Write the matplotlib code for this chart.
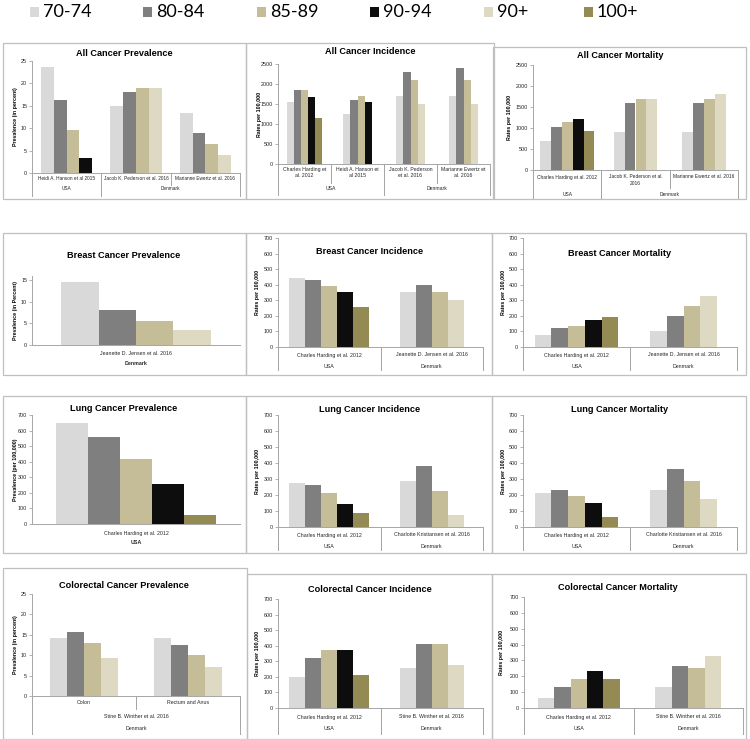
import matplotlib
matplotlib.use("Agg")
import matplotlib.pyplot as plt
from matplotlib.patches import Rectangle
from matplotlib.lines import Line2D
from matplotlib.transforms import blended_transform_factory

plt.rcParams["font.family"] = ["Liberation Sans", "DejaVu Sans"]

W, H = 750, 739

# age groups and their colours (legend order)
ages = ["70-74", "80-84", "85-89", "90-94", "90+", "100+"]
age_colors = ["#d9d9d9", "#7f7f7f", "#c4bd97", "#0d0d0d", "#ddd9c3", "#948a54"]

# --- All cancer ---
all_prev_studies = ["Heidi A. Hanson et al 2015", "Jacob K. Pederson et al. 2016",
                    "Marianne Ewertz et al. 2016"]
all_prev_values = [[23.7, 16.2, 9.7, 3.4, None, None],
                   [15.0, 18.1, 19.0, None, 19.0, None],
                   [13.3, 9.0, 6.5, None, 4.0, None]]

all_inc_studies = ["Charles Harding et\nal. 2012", "Heidi A. Hanson et\nal 2015",
                   "Jacob K. Pederson\net al. 2016", "Marianne Ewertz et\nal. 2016"]
all_inc_values = [[1550, 1850, 1850, 1680, None, 1150],
                  [1240, 1600, 1700, 1550, None, None],
                  [1700, 2300, 2100, None, 1500, None],
                  [1700, 2400, 2100, None, 1500, None]]

all_mort_studies = ["Charles Harding et al. 2012", "Jacob K. Pederson et al.\n2016",
                    "Marianne Ewertz et al. 2016"]
all_mort_values = [[690, 1020, 1140, 1220, None, 930],
                   [900, 1600, 1700, None, 1700, None],
                   [900, 1600, 1700, None, 1800, None]]

# --- Breast cancer ---
breast_prev_studies = ["Jeanette D. Jensen et al. 2016"]
breast_prev_values = [[14.5, 8.2, 5.6, None, 3.4, None]]

breast_studies = ["Charles Harding et al. 2012", "Jeanette D. Jensen et al. 2016"]
breast_inc_values = [[440, 430, 390, 350, None, 260],
                     [350, 400, 350, None, 300, None]]
breast_mort_values = [[80, 120, 135, 175, None, 190],
                      [100, 200, 265, None, 325, None]]

# --- Lung cancer ---
lung_prev_studies = ["Charles Harding et al. 2012"]
lung_prev_values = [[650, 560, 420, 260, None, 60]]

lung_studies = ["Charles Harding et al. 2012", "Charlotte Kristiansen et al. 2016"]
lung_inc_values = [[275, 265, 215, 145, None, 90],
                   [285, 380, 225, None, 75, None]]
lung_mort_values = [[215, 230, 195, 150, None, 65],
                    [230, 360, 285, None, 175, None]]

# --- Colorectal cancer ---
crc_prev_sites = ["Colon", "Rectum and Anus"]
crc_prev_values = [[14.3, 15.8, 13.0, None, 9.3, None],
                   [14.1, 12.5, 10.0, None, 7.1, None]]

crc_studies = ["Charles Harding et al. 2012", "Stine B. Winther et al. 2016"]
crc_inc_values = [[200, 320, 370, 370, None, 210],
                  [260, 410, 410, None, 275, None]]
crc_mort_values = [[65, 130, 180, 235, None, 180],
                   [135, 265, 255, None, 325, None]]


def spans(labels):
    return [(lab, i, i + 1) for i, lab in enumerate(labels)]


usa_dk = [("USA", 0, 1), ("Denmark", 1, 2)]

# layout in pixels: box (x0, y0, x1, y1), axes (left, top, right, bottom)
panels = [
    dict(title="All Cancer Prevalence", txy=(124, 53), box=(3, 43, 246, 199),
         ax=(32, 61, 240, 173), ymax=25, ystep=5, ylabel="Prevalence (in percent)", ylx=15,
         bw=0.185, values=all_prev_values, fs=3.4,
         levels=[(spans(all_prev_studies), 176.5, "top", 185, False),
                 ([("USA", 0, 1), ("Denmark", 1, 3)], 189, "center", 196, False)]),
    dict(title="All Cancer Incidence", txy=(370, 52), box=(246, 43, 494, 199),
         ax=(278, 64, 490, 164), ymax=2500, ystep=500, ylabel="Rates per 100,000", ylx=259,
         bw=0.135, values=all_inc_values, fs=3.7,
         levels=[(spans(all_inc_studies), 167, "top", 183, False),
                 ([("USA", 0, 2), ("Denmark", 2, 4)], 189, "center", 195, False)]),
    dict(title="All Cancer Mortality", txy=(620, 56), box=(493, 47, 746, 199),
         ax=(533, 65, 738, 170), ymax=2500, ystep=500, ylabel="Rates per 100,000", ylx=510,
         bw=0.16, values=all_mort_values, fs=3.5,
         levels=[(spans(all_mort_studies), 174.5, "top", 188, False),
                 ([("USA", 0, 1), ("Denmark", 1, 3)], 194, "center", 198, False)]),

    dict(title="Breast Cancer Prevalence", txy=(124, 256), box=(3, 233, 246, 375),
         ax=(32, 276, 240, 345), ymax=16, ystep=5, ylabel="Prevalence (in Percent)", ylx=15,
         bw=0.18, values=breast_prev_values, fs=3.8,
         levels=[(spans(breast_prev_studies), 353, "center", None, False),
                 ([("Denmark", 0, 1)], 363, "center", None, True)]),
    dict(title="Breast Cancer Incidence", txy=(370, 252), box=(246, 233, 492, 375),
         ax=(278, 238, 483, 347), ymax=700, ystep=100, ylabel="Rates per 100,000", ylx=258,
         bw=0.156, values=breast_inc_values, fs=3.8,
         levels=[(spans(breast_studies), 355, "center", 370, False),
                 (usa_dk, 367, "center", 370, False)]),
    dict(title="Breast Cancer Mortality", txy=(620, 254), box=(492, 233, 746, 375),
         ax=(523, 238, 737, 347), ymax=700, ystep=100, ylabel="Rates per 100,000", ylx=503,
         bw=0.156, values=breast_mort_values, fs=3.8,
         levels=[(spans(breast_studies), 355, "center", 370, False),
                 (usa_dk, 367, "center", 370, False)]),

    dict(title="Lung Cancer Prevalence", txy=(124, 408), box=(3, 396, 246, 553),
         ax=(32, 415, 240, 524), ymax=700, ystep=100, ylabel="Prevalence (per 100,000)", ylx=15,
         bw=0.153, values=lung_prev_values, fs=3.8,
         levels=[(spans(lung_prev_studies), 533, "center", None, False),
                 ([("USA", 0, 1)], 542, "center", None, True)]),
    dict(title="Lung Cancer Incidence", txy=(370, 410), box=(246, 396, 492, 553),
         ax=(278, 415, 483, 527), ymax=700, ystep=100, ylabel="Rates per 100,000", ylx=258,
         bw=0.156, values=lung_inc_values, fs=3.8,
         levels=[(spans(lung_studies), 535, "center", 550, False),
                 (usa_dk, 547, "center", 550, False)]),
    dict(title="Lung Cancer Mortality", txy=(620, 410), box=(492, 396, 746, 553),
         ax=(523, 415, 737, 527), ymax=700, ystep=100, ylabel="Rates per 100,000", ylx=503,
         bw=0.156, values=lung_mort_values, fs=3.8,
         levels=[(spans(lung_studies), 535, "center", 550, False),
                 (usa_dk, 547, "center", 550, False)]),

    dict(title="Colorectal Cancer Prevalence", txy=(124, 586), box=(3, 568, 247, 739),
         ax=(32, 594, 240, 696), ymax=25, ystep=5, ylabel="Prevalence (in percent)", ylx=15,
         bw=0.164, values=crc_prev_values, fs=3.8,
         levels=[(spans(crc_prev_sites), 703, "center", 709, False),
                 ([("Stine B. Winther et al. 2016", 0, 2)], 716, "center", 722, False),
                 ([("Denmark", 0, 2)], 728, "center", 734, False)]),
    dict(title="Colorectal Cancer Incidence", txy=(370, 589), box=(247, 574, 492, 739),
         ax=(278, 599, 483, 708), ymax=700, ystep=100, ylabel="Rates per 100,000", ylx=258,
         bw=0.156, values=crc_inc_values, fs=3.8,
         levels=[(spans(crc_studies), 717, "center", 734, False),
                 (usa_dk, 729, "center", 734, False)]),
    dict(title="Colorectal Cancer Mortality", txy=(618, 588), box=(492, 574, 746, 739),
         ax=(524, 597, 743, 708), ymax=700, ystep=100, ylabel="Rates per 100,000", ylx=502,
         bw=0.15, values=crc_mort_values, fs=3.8,
         levels=[(spans(crc_studies), 717, "center", 734, False),
                 (usa_dk, 729, "center", 734, False)]),
]


def fx(x):
    return x / W


def fy(y):
    return 1 - y / H


fig = plt.figure(figsize=(W / 100, H / 100), dpi=100)
axis_grey = "#a6a6a6"
text_col = "#262626"

for p in panels:
    x0, y0, x1, y1 = p["box"]
    fig.add_artist(Rectangle((fx(x0), fy(y1)), (x1 - x0) / W, (y1 - y0) / H,
                             transform=fig.transFigure, fill=False,
                             ec="#bfbfbf", lw=0.9))
    l, t, r, b = p["ax"]
    ax = fig.add_axes([fx(l), fy(b), (r - l) / W, (b - t) / H])
    ax.patch.set_alpha(0)

    # bars, centred in each group, skipping missing age classes
    bw = p["bw"]
    for gi, vals in enumerate(p["values"]):
        present = [(k, v) for k, v in enumerate(vals) if v is not None]
        start = gi + 0.5 - len(present) * bw / 2
        for j, (k, v) in enumerate(present):
            ax.bar(start + (j + 0.5) * bw, v, width=bw, color=age_colors[k], lw=0)

    ngroups = len(p["values"])
    ax.set_xlim(0, ngroups)
    ax.set_ylim(0, p["ymax"])
    ax.set_yticks(range(0, p["ymax"] + 1, p["ystep"]))
    ax.set_xticks([])
    for s in ["top", "right"]:
        ax.spines[s].set_visible(False)
    for s in ["left", "bottom"]:
        ax.spines[s].set_color(axis_grey)
        ax.spines[s].set_linewidth(0.7)
    ax.tick_params(axis="y", direction="out", length=2, width=0.6, color=axis_grey,
                   labelsize=3.9, labelcolor=text_col, pad=1.5)

    # multi-level category axis
    tr = blended_transform_factory(ax.transData, fig.transFigure)
    for labels, ly, va, sep_bottom, bold in p["levels"]:
        for lab, s0, s1 in labels:
            fig.text((s0 + s1) / 2, fy(ly), lab, transform=tr, ha="center", va=va,
                     fontsize=p["fs"], color=text_col, linespacing=1.3,
                     fontweight="bold" if bold else "normal")
            if sep_bottom is not None:
                for xe in (s0, s1):
                    fig.add_artist(Line2D([xe, xe], [fy(b), fy(sep_bottom)], transform=tr,
                                          color=axis_grey, lw=0.7))

    fig.text(fx(p["ylx"]), fy((t + b) / 2), p["ylabel"], rotation=90, ha="center",
             va="center", fontsize=3.8, fontweight="bold", color="black")
    fig.text(fx(p["txy"][0]), fy(p["txy"][1]), p["title"], ha="center", va="center",
             fontsize=6.6, fontweight="bold", color="black")

# legend across the top
legend_x = [30, 143, 257, 370, 484, 584]
for age, col, lx in zip(ages, age_colors, legend_x):
    fig.add_artist(Rectangle((fx(lx), fy(17)), 9 / W, 10 / H, transform=fig.transFigure,
                             fc=col, ec="none"))
    fig.text(fx(lx + 13), fy(12), age, ha="left", va="center", fontsize=13,
             family=["Lato", "DejaVu Sans"], color="black")

fig.savefig("out.png", dpi=100, facecolor="white")
